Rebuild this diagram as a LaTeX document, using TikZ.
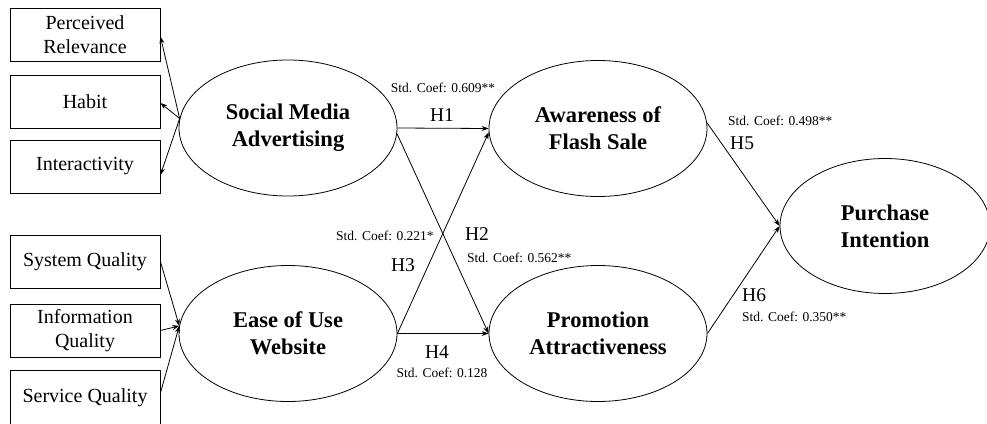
\documentclass[tikz,border=0pt]{standalone}
\usepackage{fontspec}
\setmainfont{Liberation Serif}
\usetikzlibrary{shapes.geometric,arrows.meta}
\tikzstyle{indicator} = [draw, thick, line width=0.8pt, minimum width=150pt, minimum height=53pt, align=center, inner sep=0pt, font=\fontsize{20}{24}\selectfont]
\tikzset{construct/.style={ellipse, draw, line width=0.8pt, minimum width=218pt, minimum height=136pt, inner sep=0pt, align=center, font=\fontsize{22.5}{27}\selectfont\bfseries},
    path/.style={-{Stealth[length=7pt,width=5pt]}, line width=0.8pt},
    coef/.style={font=\fontsize{13.5}{15}\selectfont, inner sep=0pt},
    hyp/.style={font=\fontsize{19.5}{22}\selectfont, inner sep=0pt}}

\begin{document}
\begin{tikzpicture}[x=1pt,y=-1pt]
    \useasboundingbox (0,0) rectangle (987,423);
    % Indicators
    \node[indicator] (relev) at (85,34.5) {Perceived\\Relevance};
    \node[indicator] (habit) at (85,101.5) {Habit};
    \node[indicator] (inter) at (85,166.5) {Interactivity};
    \node[indicator] (sysq) at (85,261.5) {System Quality};
    \node[indicator] (infq) at (85,330.5) {Information\\Quality};
    \node[indicator, minimum height=56pt] (servq) at (85,398) {Service Quality};
    % Constructs
    \node[construct] (sma) at (288,128) {Social Media\\Advertising};
    \node[construct] (eou) at (288,333.5) {Ease of Use\\Website};
    \node[construct] (afs) at (598,128.5) {Awareness of\\Flash Sale};
    \node[construct] (pa) at (598,333.5) {Promotion\\Attractiveness};
    \node[construct, minimum width=210pt, minimum height=135pt] (pi) at (885,226) {Purchase\\Intention};
    %
    \coordinate (smahub) at (sma.175);
    \coordinate (eouhub) at (eou.176);
    \draw[path] (smahub) -- ([yshift=-2pt]relev.east);
    \draw[path] (smahub) -- ([yshift=-1.5pt]habit.east);
    \draw[path] (smahub) -- ([yshift=-8.5pt]inter.east);
    \draw[path] (sysq.east) -- (eouhub);
    \draw[path] (infq.east) -- (eouhub);
    \draw[path] ([yshift=5pt]servq.east) -- (eouhub);
    % Hypotheses
    \draw[path] (sma.east) -- (afs.west);
    \draw[path] (sma.-3) -- (pa.west);
    \draw[path] (eou.east) -- (afs.182);
    \draw[path] (eou.east) -- (pa.west);
    \draw[path] (afs.3) -- (pi.west);
    \draw[path] (pa.east) -- (pi.west);
    % Labels
    \node[coef] (c1) at (443,88) {Std. Coef: 0.609**};
    \node[hyp] (h1) at (442,115) {H1};
    \node[hyp] (h2) at (477,234) {H2};
    \node[coef, anchor=west] (c2) at (467,258) {Std. Coef: 0.562**};
    \node[coef, anchor=west] (c3) at (336,236) {Std. Coef: 0.221*};
    \node[hyp] (h3) at (403,265) {H3};
    \node[hyp] (h4) at (437,352) {H4};
    \node[coef] (c4) at (442,373) {Std. Coef: 0.128};
    \node[coef, anchor=west] (c5) at (728,121) {Std. Coef: 0.498**};
    \node[hyp, anchor=west] (h5) at (730,143) {H5};
    \node[hyp, anchor=west] (h6) at (742,295) {H6};
    \node[coef, anchor=west] (c6) at (742,317) {Std. Coef: 0.350**};
\end{tikzpicture}
\end{document}
